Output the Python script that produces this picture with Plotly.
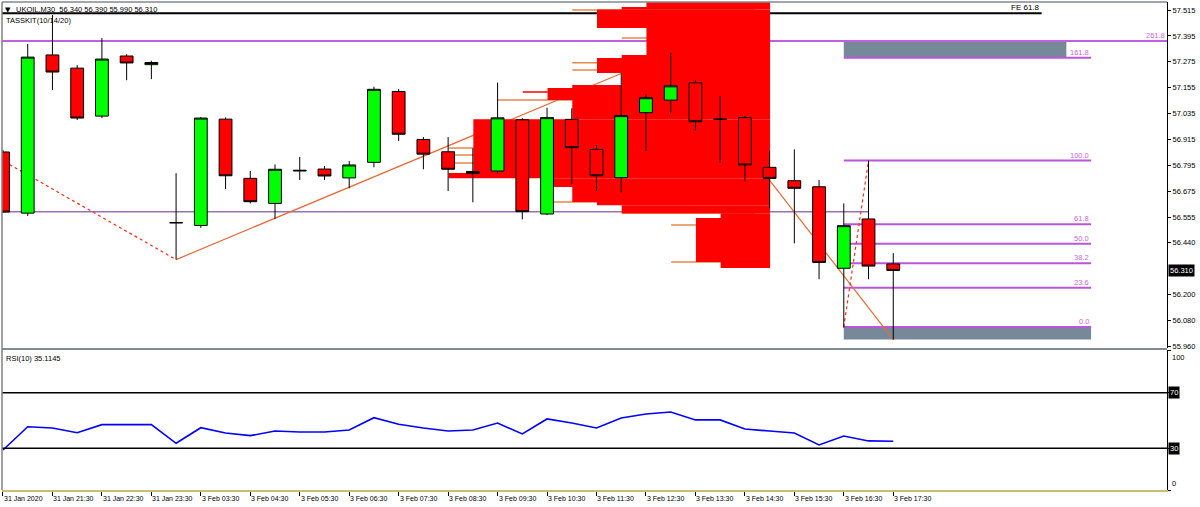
import plotly.graph_objects as go

# ---------------- data ----------------
bar_idx = list(range(37))
opens = [56.858, 56.575, 57.307, 57.246, 57.024, 57.302, 57.262, 56.530, 56.518, 57.010,
         56.736, 56.620, 56.770, 56.779, 56.738, 56.810, 57.138, 56.916, 56.859, 56.768,
         56.770, 57.007, 56.571, 57.009, 56.870, 56.739, 57.040, 57.098, 57.178, 57.009,
         57.017, 56.787, 56.725, 56.697, 56.320, 56.548, 56.340]
highs = [56.867, 57.358, 57.492, 57.260, 57.385, 57.310, 57.280, 56.760, 57.020, 57.018,
         56.770, 56.800, 56.835, 56.793, 56.816, 57.160, 57.149, 56.927, 56.927, 56.875,
         57.179, 57.015, 57.063, 57.060, 56.890, 57.222, 57.126, 57.317, 57.190, 57.117,
         57.025, 56.864, 56.870, 56.728, 56.620, 56.818, 56.390]
lows = [56.578, 56.562, 57.145, 57.006, 57.015, 57.190, 57.195, 56.360, 56.507, 56.687,
        56.620, 56.548, 56.728, 56.728, 56.690, 56.787, 56.909, 56.778, 56.677, 56.625,
        56.759, 56.546, 56.566, 56.710, 56.677, 56.671, 56.862, 57.037, 56.956, 56.808,
        56.720, 56.597, 56.435, 56.269, 56.045, 56.269, 55.990]
closes = [56.580, 57.297, 57.228, 57.015, 57.288, 57.270, 57.272, 56.531, 57.015, 56.748,
          56.628, 56.778, 56.773, 56.747, 56.798, 57.148, 56.940, 56.848, 56.778, 56.759,
          57.016, 56.582, 57.017, 56.878, 56.748, 57.026, 57.109, 57.164, 56.998, 57.010,
          56.798, 56.736, 56.690, 56.347, 56.517, 56.330, 56.310]
rsi_vals = [28.8, 45.5, 44.6, 41.2, 47.0, 47.0, 47.0, 33.6, 44.8, 41.0,
            39.1, 42.4, 41.7, 41.7, 43.2, 52.0, 47.3, 44.6, 42.4, 43.2,
            48.2, 40.3, 51.1, 48.2, 44.6, 51.8, 54.7, 56.1, 50.4, 50.4,
            43.9, 42.4, 41.0, 32.4, 38.8, 35.3, 35.1]

time_labels = ["31 Jan 2020", "31 Jan 21:30", "31 Jan 22:30", "31 Jan 23:30", "3 Feb 03:30",
               "3 Feb 04:30", "3 Feb 05:30", "3 Feb 06:30", "3 Feb 07:30", "3 Feb 08:30",
               "3 Feb 09:30", "3 Feb 10:30", "3 Feb 11:30", "3 Feb 12:30", "3 Feb 13:30",
               "3 Feb 14:30", "3 Feb 15:30", "3 Feb 16:30", "3 Feb 17:30"]
label_idx = list(range(0, 37, 2))

price_ticks = [57.515, 57.395, 57.275, 57.155, 57.035, 56.915, 56.795, 56.675, 56.555,
               56.440, 56.200, 56.080, 55.960]
price_tick_text = ["57.515", "57.395", "57.275", "57.155", "57.035", "56.915", "56.795",
                   "56.675", "56.555", "56.440", "56.200", "56.080", "55.960"]

# market profile bands (top price, bottom price, bar count), anchored at right edge
prof_top = [57.552, 57.529, 57.517, 57.432, 57.307, 57.293, 57.223, 57.168, 57.154, 57.098,
            57.010, 56.761, 56.737, 56.696, 56.626, 56.612, 56.575, 56.552, 56.349]
prof_bot = [57.529, 57.517, 57.432, 57.307, 57.293, 57.223, 57.168, 57.154, 57.098, 57.010,
            56.761, 56.737, 56.696, 56.626, 56.612, 56.575, 56.552, 56.349, 56.321]
prof_count = [5, 6, 7, 5, 6, 7, 6, 8, 9, 8, 12, 13, 9, 8, 7, 6, 2, 3, 2]
prof_right = 31.02

# thin profile lines (price, count)
orange_line_price = [57.515, 57.385, 57.271, 57.237, 57.098, 56.876, 56.844, 56.807,
                     56.626, 56.575, 56.520, 56.349]
orange_line_count = [8, 6, 8, 8, 11, 13, 13, 13, 9, 6, 4, 4]
red_line_price = [57.135]
red_line_count = [10]

# zigzag pivots
zz1_idx = [-1, 7]
zz1_price = [56.883, 56.360]
zz2_idx = [7, 27, 36]
zz2_price = [56.360, 57.317, 55.990]

# fibonacci
fib_start, fib_end = 34, 44
fib_levels = [0.0, 23.6, 38.2, 50.0, 61.8, 100.0, 161.8]
fib_prices = [56.048, 56.230, 56.343, 56.433, 56.524, 56.818, 57.294]
fib_anchor_idx = [34, 35]
fib_anchor_price = [56.048, 56.818]
level_2618 = 57.371
fe_price = 57.500
fe_end = 42
hline_price = 56.582
hline_end = 35
gray_box_top = (34, 43, 57.294, 57.371)
gray_box_bot = (34, 44, 55.990, 56.048)

title_text = "UKOIL,M30  56.340 56.390 55.990 56.310"
last_price = 56.310
rsi_text = "RSI(10) 35.1145"

# ---------------- figure ----------------
X_LO, X_HI = -0.04, 47.07
FONT = "Liberation Sans"
FIB_COL = "#bb55dd"
FIB_TXT = "#cc66dd"

fig = go.Figure()

def hseg(x0, x1, y, color, width, dash="solid"):
    return dict(type="line", xref="x", yref="y", x0=x0, x1=x1, y0=y, y1=y,
                line=dict(color=color, width=width, dash=dash), layer="below")

shapes = [
    dict(type="rect", xref="x", yref="y", x0=gray_box_top[0], x1=gray_box_top[1],
         y0=gray_box_top[2], y1=gray_box_top[3], fillcolor="#778899", line=dict(width=0),
         layer="below"),
    dict(type="rect", xref="x", yref="y", x0=gray_box_bot[0], x1=gray_box_bot[1],
         y0=gray_box_bot[2], y1=gray_box_bot[3], fillcolor="#778899", line=dict(width=0),
         layer="below"),
]
# horizontal objects (beneath profile and candles)
shapes.append(hseg(X_LO, fe_end, fe_price, "black", 2))
shapes.append(hseg(X_LO, X_HI, level_2618, "#c060e0", 2))
shapes.append(hseg(X_LO, hline_end, hline_price, "#9a6fb5", 1.5))
for p in fib_prices:
    shapes.append(hseg(fib_start, fib_end, p, FIB_COL, 2))
# profile thin lines
for p, c in zip(orange_line_price, orange_line_count):
    shapes.append(hseg(prof_right - c, prof_right - 0.6, p, "#e4874a", 1.5))
for p, c in zip(red_line_price, red_line_count):
    shapes.append(hseg(prof_right - c, prof_right - 0.6, p, "#ff0000", 1.5))

# zigzag segments
def seg(xs, ys, color, dash):
    out = []
    for k in range(len(xs) - 1):
        out.append(dict(type="line", xref="x", yref="y", x0=xs[k], x1=xs[k + 1],
                        y0=ys[k], y1=ys[k + 1], line=dict(color=color, width=1.2, dash=dash),
                        layer="below"))
    return out

shapes += seg(zz1_idx, zz1_price, "#ff2a10", "dot")
shapes += seg(zz2_idx, zz2_price, "#ea6a35", "solid")
shapes += seg(fib_anchor_idx, fib_anchor_price, "#ff2a10", "dot")

shapes += [
    dict(type="line", xref="paper", yref="y2", x0=0, x1=1, y0=70, y1=70,
         line=dict(color="black", width=1.5)),
    dict(type="line", xref="paper", yref="y2", x0=0, x1=1, y0=30, y1=30,
         line=dict(color="black", width=1.5)),
    # frame
    dict(type="rect", xref="paper", yref="paper", x0=0, x1=1, y0=0.2869, y1=0.2910,
         fillcolor="#7f8a94", line=dict(width=0)),
    dict(type="line", xref="paper", yref="paper", x0=0, x1=0, y0=0, y1=1,
         line=dict(color="#808080", width=1.5)),
    dict(type="line", xref="paper", yref="paper", x0=0, x1=1, y0=1, y1=1,
         line=dict(color="#808890", width=1.5)),
]

# market profile
fig.add_trace(go.Bar(
    orientation="h",
    y=[(t + b) / 2 for t, b in zip(prof_top, prof_bot)],
    x=prof_count,
    base=[prof_right - c for c in prof_count],
    width=[t - b for t, b in zip(prof_top, prof_bot)],
    marker=dict(color="#ff0000", line=dict(width=0)),
    hoverinfo="skip"))

# candles
fig.add_trace(go.Candlestick(
    x=bar_idx, open=opens, high=highs, low=lows, close=closes,
    increasing=dict(fillcolor="#00ff00", line=dict(color="black", width=1)),
    decreasing=dict(fillcolor="#ff0000", line=dict(color="black", width=1)),
    whiskerwidth=0, hoverinfo="skip", xaxis="x", yaxis="y"))

# RSI
fig.add_trace(go.Scatter(x=bar_idx, y=rsi_vals, mode="lines",
                         line=dict(color="#0000ff", width=1.6), xaxis="x2", yaxis="y2",
                         hoverinfo="skip"))

ann = []
small = dict(family=FONT, size=7.5, color="black")
tiny = dict(family=FONT, size=7, color="black")
ann.append(dict(xref="paper", yref="paper", x=0, y=1, xanchor="left", yanchor="top",
                xshift=1, yshift=-2, text="▼", showarrow=False,
                font=dict(family="DejaVu Sans", size=7, color="black")))
ann.append(dict(xref="paper", yref="paper", x=0, y=1, xanchor="left", yanchor="top",
                xshift=12, yshift=-1, text=title_text, showarrow=False,
                font=dict(family=FONT, size=7.5, color="black")))
ann.append(dict(xref="paper", yref="paper", x=0, y=1, xanchor="left", yanchor="top",
                xshift=2, yshift=-12, text="TASSKIT(10/14/20)", showarrow=False,
                font=dict(family=FONT, size=7.5, color="black")))
ann.append(dict(xref="paper", yref="paper", x=0, y=0.2869, xanchor="left", yanchor="top",
                xshift=2, yshift=-2, text=rsi_text, showarrow=False,
                font=dict(family=FONT, size=7.5, color="black")))
# fib labels
for lv, p in zip(fib_levels, fib_prices):
    ann.append(dict(xref="x", yref="y", x=fib_end, y=p, xanchor="right", yanchor="bottom",
                    yshift=-1, text=f"{lv:.1f}", showarrow=False,
                    font=dict(family=FONT, size=7.5, color=FIB_TXT)))
ann.append(dict(xref="paper", yref="y", x=1, y=level_2618, xanchor="right", yanchor="bottom",
                yshift=-1, text="261.8", showarrow=False,
                font=dict(family=FONT, size=7.5, color=FIB_TXT)))
ann.append(dict(xref="x", yref="y", x=fe_end, y=fe_price, xanchor="right", yanchor="bottom",
                yshift=-1, text="FE 61.8", showarrow=False,
                font=dict(family=FONT, size=8, color="black")))
# last price marker
ann.append(dict(xref="paper", yref="y", x=1, y=last_price, xanchor="left", yanchor="middle",
                xshift=1, text=f"{last_price:.3f}", showarrow=False, bgcolor="black",
                borderpad=1, font=dict(family=FONT, size=7.5, color="white")))
# RSI axis labels
ann.append(dict(xref="paper", yref="y2", x=1, y=100, xanchor="left", yanchor="top",
                xshift=3, text="100", showarrow=False, font=small))
ann.append(dict(xref="paper", yref="y2", x=1, y=0, xanchor="left", yanchor="bottom",
                xshift=3, text="0", showarrow=False, font=small))
for v in (70, 30):
    ann.append(dict(xref="paper", yref="y2", x=1, y=v, xanchor="left", yanchor="middle",
                    xshift=1, text=str(v), showarrow=False, bgcolor="black", borderpad=1,
                    font=dict(family=FONT, size=7.5, color="white")))
# time labels
for i, t in zip(label_idx, time_labels):
    ann.append(dict(xref="x2", yref="paper", x=i, y=0, xanchor="left", yanchor="top",
                    xshift=-1, yshift=-3, text=t, showarrow=False, font=tiny))

fig.update_layout(
    width=1200, height=507,
    margin=dict(l=2, r=33, t=2, b=17),
    paper_bgcolor="white", plot_bgcolor="white",
    showlegend=False, boxgap=0.26, barmode="overlay",
    xaxis=dict(domain=[0, 1], anchor="y", range=[X_LO, X_HI], showticklabels=False,
               showgrid=False, zeroline=False, ticks="", rangeslider=dict(visible=False),
               fixedrange=True),
    yaxis=dict(domain=[0.291, 1], anchor="x", side="right", range=[55.951, 57.552],
               tickvals=price_ticks, ticktext=price_tick_text, ticks="outside", ticklen=3,
               tickcolor="black", showgrid=False, zeroline=False, showline=True,
               linecolor="black", linewidth=1, tickfont=small),
    xaxis2=dict(domain=[0, 1], anchor="y2", range=[X_LO, X_HI], tickvals=label_idx,
                ticks="outside", ticklen=4, tickcolor="black", showticklabels=False,
                showgrid=False, zeroline=False, showline=True, linecolor="#c8c070",
                linewidth=1.5),
    yaxis2=dict(domain=[0, 0.2869], anchor="x2", side="right", range=[0, 100.7],
                showticklabels=False, showgrid=False, zeroline=False, showline=True,
                linecolor="black", linewidth=1, ticks="outside", tickvals=[100, 70, 30, 0],
                ticklen=3, tickcolor="black"),
    shapes=shapes, annotations=ann,
)

fig.write_html("out.html", config={"displayModeBar": False},
               post_script="document.body.style.margin='0';document.body.style.overflow='hidden';")
